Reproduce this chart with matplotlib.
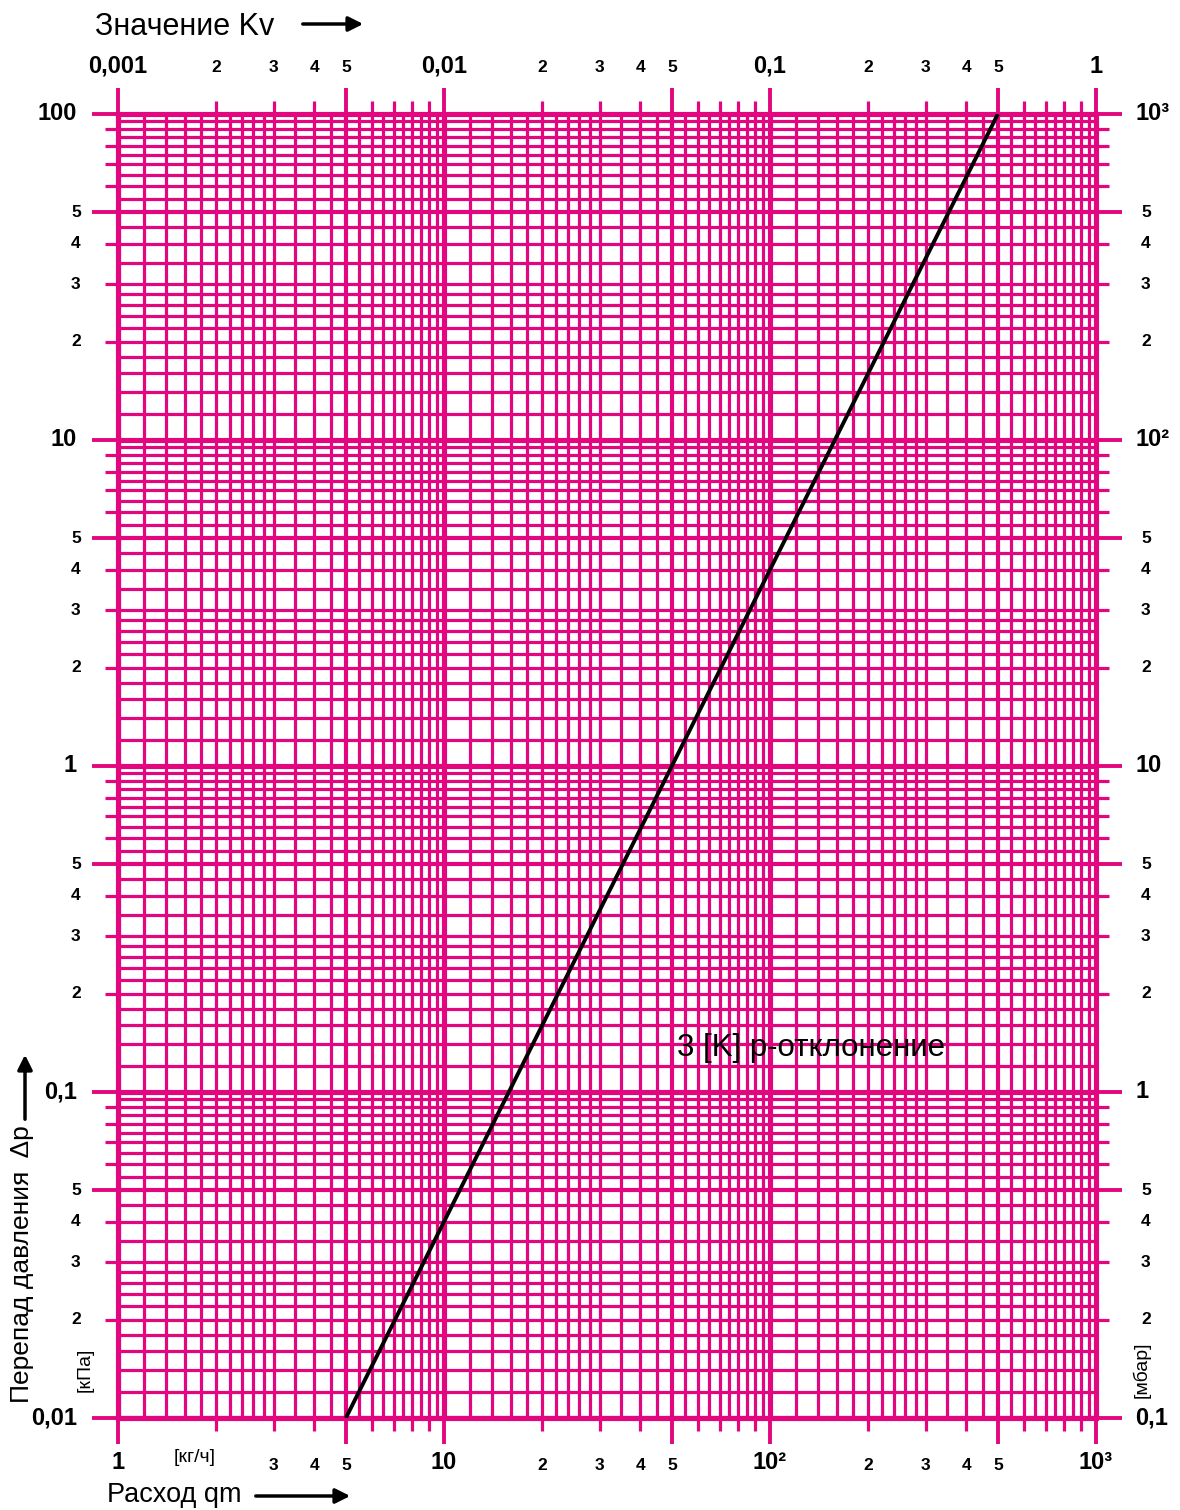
import numpy as np
import matplotlib.pyplot as plt
from matplotlib.ticker import FixedLocator, NullFormatter

plt.rcParams['font.family'] = ['Liberation Sans', 'DejaVu Sans']

PINK = '#E2077F'

# характеристика: расход qm [кг/ч] -> перепад давления [кПа]
qm = [5, 500]
dp = [0.01, 100]

# деления логарифмической сетки внутри декады
sub = [1, 1.2, 1.4, 1.6, 1.8, 2, 2.2, 2.4, 2.6, 2.8, 3,
       3.5, 4, 4.5, 5, 5.5, 6, 6.5, 7, 7.5, 8, 8.5, 9, 9.5]
x_decades = [1, 10, 100]
y_decades = [0.01, 0.1, 1, 10]

# подписи осей
bot_vals = [1, 3, 4, 5, 10, 20, 30, 40, 50, 100, 200, 300, 400, 500, 1000]
bot_labels = ['1', '3', '4', '5', '10', '2', '3', '4', '5', '10²', '2', '3', '4', '5', '10³']
kv_vals = [0.001, 0.002, 0.003, 0.004, 0.005, 0.01, 0.02, 0.03, 0.04, 0.05,
           0.1, 0.2, 0.3, 0.4, 0.5, 1]
kv_labels = ['0,001', '2', '3', '4', '5', '0,01', '2', '3', '4', '5',
             '0,1', '2', '3', '4', '5', '1']
kpa_vals = [100, 50, 40, 30, 20, 10, 5, 4, 3, 2, 1, 0.5, 0.4, 0.3, 0.2,
            0.1, 0.05, 0.04, 0.03, 0.02, 0.01]
kpa_labels = ['100', '5', '4', '3', '2', '10', '5', '4', '3', '2', '1', '5', '4', '3', '2',
              '0,1', '5', '4', '3', '2', '0,01']
mbar_vals = [1000, 500, 400, 300, 200, 100, 50, 40, 30, 20, 10, 5, 4, 3, 2,
             1, 0.5, 0.4, 0.3, 0.2, 0.1]
mbar_labels = ['10³', '5', '4', '3', '2', '10²', '5', '4', '3', '2', '10', '5', '4', '3', '2',
               '1', '5', '4', '3', '2', '0,1']
kv_per_qm = 0.001     # Kv = qm * 0.001
mbar_per_kpa = 10


def lw_for(s):
    if s == 1:
        return 3.7
    if s == 5:
        return 3.0
    return 2.3


def is_big(v, s):
    # декадные подписи крупнее
    return len(s) > 1 or np.isclose(np.log10(v), round(np.log10(v)))


fig = plt.figure(figsize=(11.8, 15.1), dpi=100)
ax = fig.add_axes([118 / 1180, 92 / 1510, 978 / 1180, 1304 / 1510])
ax.set_xscale('log')
ax.set_yscale('log')
ax.set_xlim(1, 1000)
ax.set_ylim(0.01, 100)

# сетка
for d in x_decades:
    for s in sub:
        ax.axvline(d * s, color=PINK, lw=lw_for(s), zorder=1)
for d in y_decades:
    for s in sub:
        ax.axhline(d * s, color=PINK, lw=lw_for(s), zorder=1)

for sp in ax.spines.values():
    sp.set_color(PINK)
    sp.set_linewidth(3.7)

# выступающие риски
x_major = [d * m for d in [1, 10, 100, 1000] for m in (1, 5) if d * m <= 1000]
x_minor = [d * m for d in x_decades for m in (2, 3, 4, 6, 7, 8, 9)]
y_major = [d * m for d in [0.01, 0.1, 1, 10, 100] for m in (1, 5) if d * m <= 100]
y_minor = [d * m for d in y_decades for m in (2, 3, 4, 6, 7, 8, 9)]
ax.xaxis.set_major_locator(FixedLocator(x_major))
ax.xaxis.set_minor_locator(FixedLocator(x_minor))
ax.yaxis.set_major_locator(FixedLocator(y_major))
ax.yaxis.set_minor_locator(FixedLocator(y_minor))
for a in (ax.xaxis, ax.yaxis):
    a.set_major_formatter(NullFormatter())
    a.set_minor_formatter(NullFormatter())
ax.tick_params(which='major', length=19, width=2.8, color=PINK, direction='out',
               top=True, right=True)
ax.tick_params(which='minor', length=9.5, width=2.3, color=PINK, direction='out',
               top=True, right=True)

ax.plot(qm, dp, color='black', lw=2.8, zorder=3, solid_capstyle='butt')

ax.text(52, 0.136, '3 [K] р-отклонение', fontsize=22.5, ha='left', va='center', zorder=4)

# подписи шкал
xt = ax.get_xaxis_transform()
yt = ax.get_yaxis_transform()
for v, s in zip(bot_vals, bot_labels):
    big = is_big(v, s)
    ax.text(v, -0.0345 if big else -0.0368, s, transform=xt, ha='center', va='center',
            fontsize=17 if big else 12.5, fontweight='bold')
for v, s in zip(kv_vals, kv_labels):
    big = is_big(v, s)
    ax.text(v / kv_per_qm, 1.0368 if big else 1.0353, s, transform=xt, ha='center',
            va='center', fontsize=17 if big else 12.5, fontweight='bold')
for v, s in zip(kpa_vals, kpa_labels):
    big = is_big(v, s)
    ax.text(-0.042 if big else -0.043, v, s, transform=yt, ha='right' if big else 'center',
            va='center', fontsize=17 if big else 12.5, fontweight='bold')
for v, s in zip(mbar_vals, mbar_labels):
    big = is_big(v, s)
    ax.text(1.04 if big else 1.051, v / mbar_per_kpa, s, transform=yt,
            ha='left' if big else 'center', va='center', fontsize=17 if big else 12.5,
            fontweight='bold')

ax.text((195 - 118) / 978, -0.030, '[кг/ч]', transform=ax.transAxes,
        ha='center', va='center', fontsize=14)
ax.text(-0.034, 0.037, '[кПа]', transform=ax.transAxes, rotation=90,
        ha='center', va='center', fontsize=14)
ax.text(1.046, 0.037, '[мбар]', transform=ax.transAxes, rotation=90,
        ha='center', va='center', fontsize=14)

# названия осей со стрелками
fig.text(95 / 1180, 1 - 27 / 1510, 'Значение Kv', fontsize=22, ha='left', va='center')
fig.text(107 / 1180, 1 - 1495 / 1510, 'Расход qm', fontsize=19.5, ha='left', va='center')
fig.text(22 / 1180, 1 - 1264 / 1510, 'Перепад давления  Δp', fontsize=19, rotation=90,
         ha='center', va='center')
arrow = dict(arrowstyle='-|>', lw=2.5, color='black', mutation_scale=22)
ax.annotate('', xy=(366 / 1180, 1 - 24 / 1510), xytext=(300 / 1180, 1 - 24 / 1510),
            xycoords='figure fraction', arrowprops=arrow)
ax.annotate('', xy=(353 / 1180, 1 - 1496 / 1510), xytext=(253 / 1180, 1 - 1496 / 1510),
            xycoords='figure fraction', arrowprops=arrow)
ax.annotate('', xy=(25 / 1180, 1 - 1052 / 1510), xytext=(25 / 1180, 1 - 1122 / 1510),
            xycoords='figure fraction', arrowprops=arrow)

fig.savefig('out.png', dpi=100)
